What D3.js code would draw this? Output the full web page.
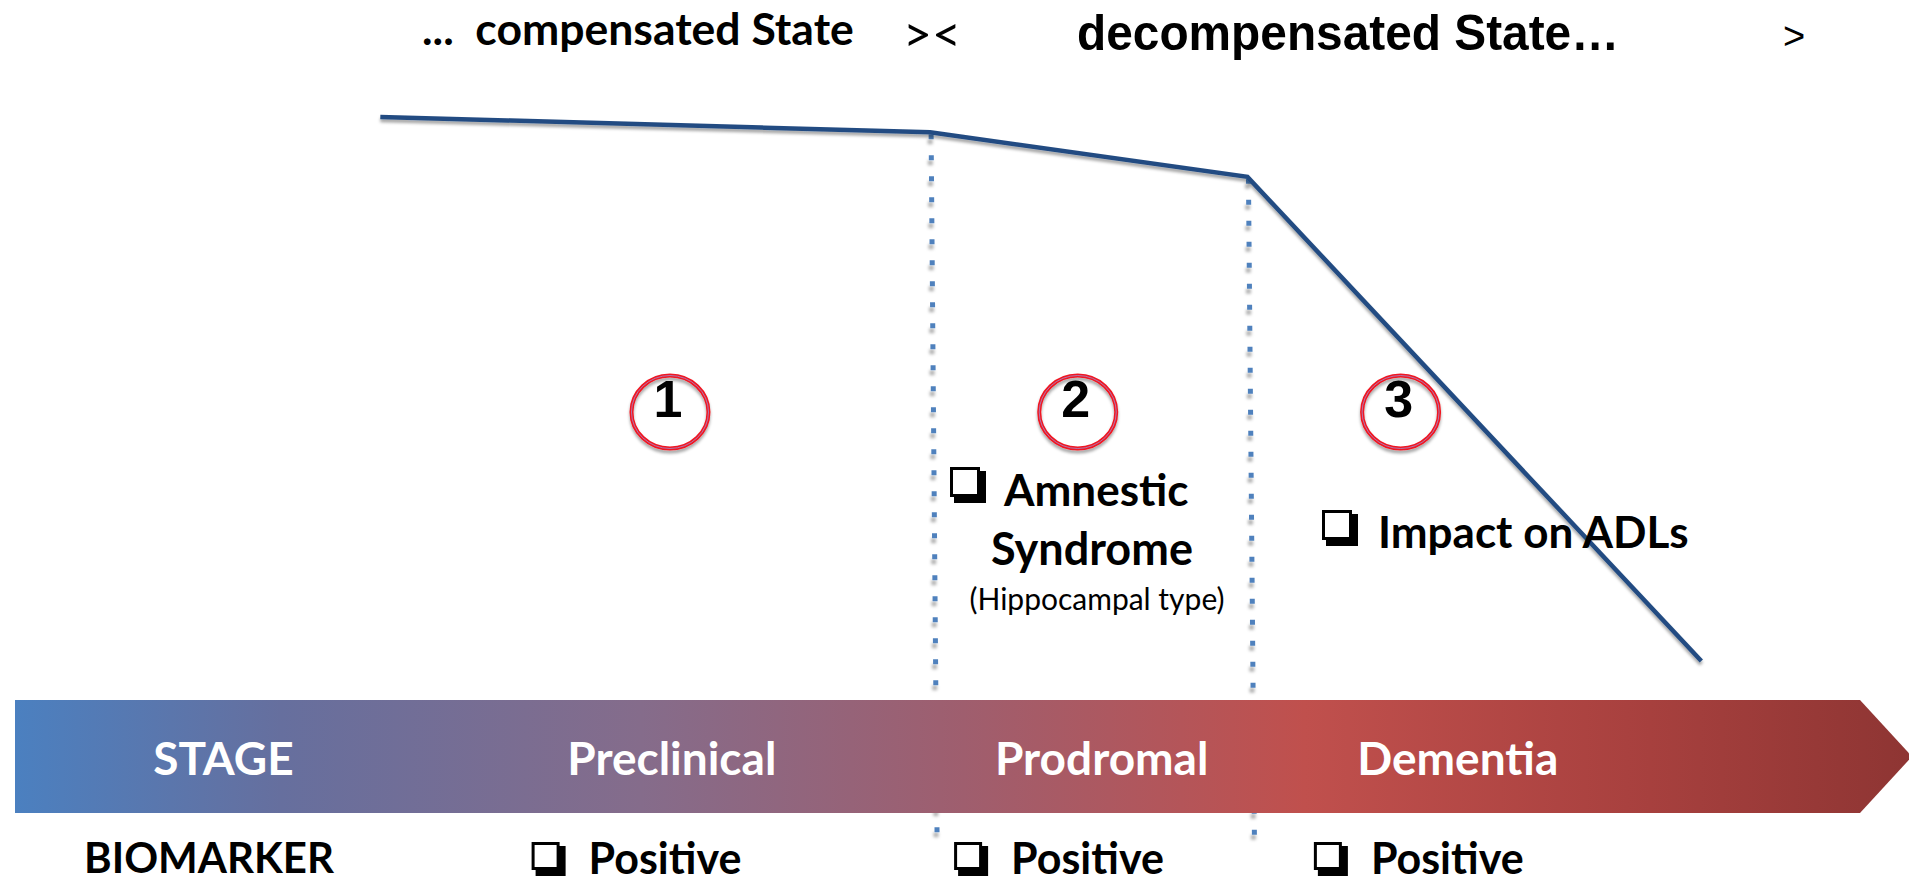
<!DOCTYPE html>
<meta charset="utf-8">
<style>
body { margin: 0; background: #fff; }
svg { display: block; }
.bold { font-family: Lato, "Open Sans", sans-serif; font-weight: 700; }
.arial { font-family: "Liberation Sans", Arial, sans-serif; }
</style>
<svg width="1909" height="883"></svg>
<script src="https://d3js.org/d3.v7.min.js"></script>
<script>
// progression of function over time (t: 0-100 along the band, v: 0-100 function)
var declineT = [19.8, 49.6, 66.8, 91.4];
var declineV = [100, 97.2, 89, 0];
var refT = [19.8, 99.2];
var refV = [99.8, 99.8];

// stage boundaries (dotted lines)
var boundaryT = [49.6, 66.8];
var boundaryTopV = [97.2, 89];

var stages = ["STAGE", "Preclinical", "Prodromal", "Dementia"];
var stageT = [11.3, 35.6, 58.9, 78.2];

var markers = ["1", "2", "3"];
var markerT = [35.5, 57.6, 75.1];

var biomarkerLabel = "BIOMARKER";
var biomarkerItems = ["Positive", "Positive", "Positive"];
var biomarkerT = [28.0, 50.9, 70.4];

var topLabels = ["...  compensated State", "><", "decompensated State\u2026", ">"];

var svg = d3.select("svg");

var x = d3.scaleLinear().domain([0, 100]).range([15, 1860]);
var y = d3.scaleLinear().domain([0, 100]).range([661, 117]);

var defs = svg.append("defs");

var shadow = defs.append("filter").attr("id", "shadow")
    .attr("x", "-10%").attr("y", "-10%").attr("width", "120%").attr("height", "130%");
shadow.append("feDropShadow").attr("dx", 0).attr("dy", 3).attr("stdDeviation", 1.5)
    .attr("flood-color", "#000").attr("flood-opacity", 0.35);

var dotShadow = defs.append("filter").attr("id", "dotshadow")
    .attr("x", "-200%").attr("y", "-5%").attr("width", "500%").attr("height", "110%");
dotShadow.append("feDropShadow").attr("dx", -1).attr("dy", 5).attr("stdDeviation", 1.5)
    .attr("flood-color", "#000").attr("flood-opacity", 0.3);

var grad = defs.append("linearGradient").attr("id", "band")
    .attr("x1", "0%").attr("x2", "100%").attr("y1", "0%").attr("y2", "0%");
[[0, "#4b80c0"], [0.14, "#666f9e"], [0.33, "#856c8b"], [0.5, "#9f5e6e"],
 [0.68, "#c0504d"], [0.85, "#a9413f"], [1, "#8e3533"]].forEach(function(s) {
  grad.append("stop").attr("offset", s[0]).attr("stop-color", s[1]);
});

// top labels
svg.append("text").attr("class", "bold")
    .attr("x", 422).attr("y", 27)
    .attr("dominant-baseline", "central")
    .style("white-space", "pre")
    .attr("font-size", 44.5)
    .text(topLabels[0]);
svg.append("text").attr("font-family", "Lato, sans-serif")
    .attr("x", 903).attr("y", 33).attr("dominant-baseline", "central")
    .attr("font-size", 50)
    .text(topLabels[1]);
svg.append("text").attr("class", "arial").attr("font-weight", 700)
    .attr("x", 1077).attr("y", 33).attr("dominant-baseline", "central")
    .attr("font-size", 50)
    .attr("textLength", 542)
    .attr("lengthAdjust", "spacingAndGlyphs")
    .text(topLabels[2]);
svg.append("text").attr("class", "arial")
    .attr("x", 1783).attr("y", 36).attr("dominant-baseline", "central")
    .attr("font-size", 38)
    .text(topLabels[3]);

var line = d3.line().x(function(d) { return x(d[0]); }).y(function(d) { return y(d[1]); });

// reference level
svg.append("path")
    .datum(d3.zip(refT, refV))
    .attr("d", line)
    .attr("fill", "none")
    .attr("stroke", "#ccd9ea")
    .attr("stroke-width", 5)
    .attr("filter", "url(#shadow)");

// stage boundaries
svg.selectAll(".boundary")
  .data(d3.zip(boundaryT, boundaryTopV))
  .enter().append("line")
    .attr("class", "boundary")
    .attr("x1", function(d) { return x(d[0]) + 1; })
    .attr("x2", function(d) { return x(d[0]) + 7; })
    .attr("y1", function(d) { return y(d[1]) + 2; })
    .attr("y2", 842)
    .attr("stroke", "#4f81bd")
    .attr("stroke-width", 5)
    .attr("stroke-dasharray", "5,16")
    .attr("filter", "url(#dotshadow)");

// decline line
svg.append("path")
    .datum(d3.zip(declineT, declineV))
    .attr("d", line)
    .attr("fill", "none")
    .attr("stroke", "#244c82")
    .attr("stroke-width", 4.5)
    .attr("filter", "url(#shadow)");

// numbered circles
var mk = svg.selectAll(".marker")
  .data(markers)
  .enter().append("g")
    .attr("class", "marker")
    .attr("transform", function(d, i) { return "translate(" + x(markerT[i]) + ",412)"; });
mk.append("ellipse").attr("rx", 38.5).attr("ry", 36.5)
    .attr("fill", "none").attr("stroke", "#f01820").attr("stroke-width", 4)
    .attr("filter", "url(#shadow)");
mk.append("ellipse").attr("rx", 38.5).attr("ry", 36.5)
    .attr("fill", "none").attr("stroke", "#a090d0").attr("stroke-width", 0.8);
mk.append("text").attr("class", "arial").attr("font-weight", 700)
    .attr("text-anchor", "middle").attr("x", -2).attr("y", -13)
    .attr("dominant-baseline", "central")
    .attr("font-size", 52)
    .text(function(d) { return d; });

function checkbox(g, cx, cy, s) {
  g.append("rect").attr("x", cx + 4).attr("y", cy + 4).attr("width", s + 2).attr("height", s + 2)
      .attr("fill", "#000");
  g.append("rect").attr("x", cx + 1.5).attr("y", cy + 1.5).attr("width", s - 3).attr("height", s - 3)
      .attr("fill", "#fff").attr("stroke", "#000").attr("stroke-width", 3);
}

// clinical features
var feat = svg.append("g");
checkbox(feat, 950, 467, 30);
feat.append("text").attr("class", "bold").attr("x", 1004).attr("y", 489)
    .attr("dominant-baseline", "central").attr("font-size", 44).text("Amnestic");
feat.append("text").attr("class", "bold").attr("x", 1092).attr("y", 548)
    .attr("text-anchor", "middle")
    .attr("dominant-baseline", "central").attr("font-size", 45).text("Syndrome");
feat.append("text").attr("font-family", "Lato, sans-serif").attr("x", 1097).attr("y", 598)
    .attr("text-anchor", "middle")
    .attr("dominant-baseline", "central").attr("font-size", 30).text("(Hippocampal type)");
checkbox(feat, 1322, 510, 30);
feat.append("text").attr("class", "bold").attr("x", 1378).attr("y", 531)
    .attr("dominant-baseline", "central").attr("font-size", 44).text("Impact on ADLs");

// stage band
var bx0 = x(0), bx1 = x(100), by0 = 700, by1 = 813;
svg.append("path")
    .attr("d", "M" + bx0 + "," + by0 + "L" + bx1 + "," + by0 + "L" + (bx1 + 52) + "," + ((by0 + by1) / 2) +
               "L" + bx1 + "," + by1 + "L" + bx0 + "," + by1 + "Z")
    .attr("fill", "url(#band)");

svg.selectAll(".stage")
  .data(stages)
  .enter().append("text")
    .attr("class", "stage bold")
    .attr("x", function(d, i) { return x(stageT[i]); })
    .attr("y", 757)
    .attr("text-anchor", "middle")
    .attr("dominant-baseline", "central")
    .attr("font-size", 46)
    .attr("fill", "#fff")
    .text(function(d) { return d; });

// biomarker row
svg.append("text").attr("class", "bold")
    .attr("x", 209).attr("y", 857)
    .attr("text-anchor", "middle").attr("dominant-baseline", "central")
    .attr("font-size", 42).text(biomarkerLabel);

var bm = svg.selectAll(".bm")
  .data(biomarkerItems)
  .enter().append("g")
    .attr("class", "bm")
    .attr("transform", function(d, i) { return "translate(" + x(biomarkerT[i]) + ",0)"; });
bm.each(function() { checkbox(d3.select(this), 0, 842, 28); });
bm.append("text").attr("class", "bold")
    .attr("x", 57).attr("y", 857)
    .attr("dominant-baseline", "central")
    .attr("font-size", 43)
    .text(function(d) { return d; });
</script>
